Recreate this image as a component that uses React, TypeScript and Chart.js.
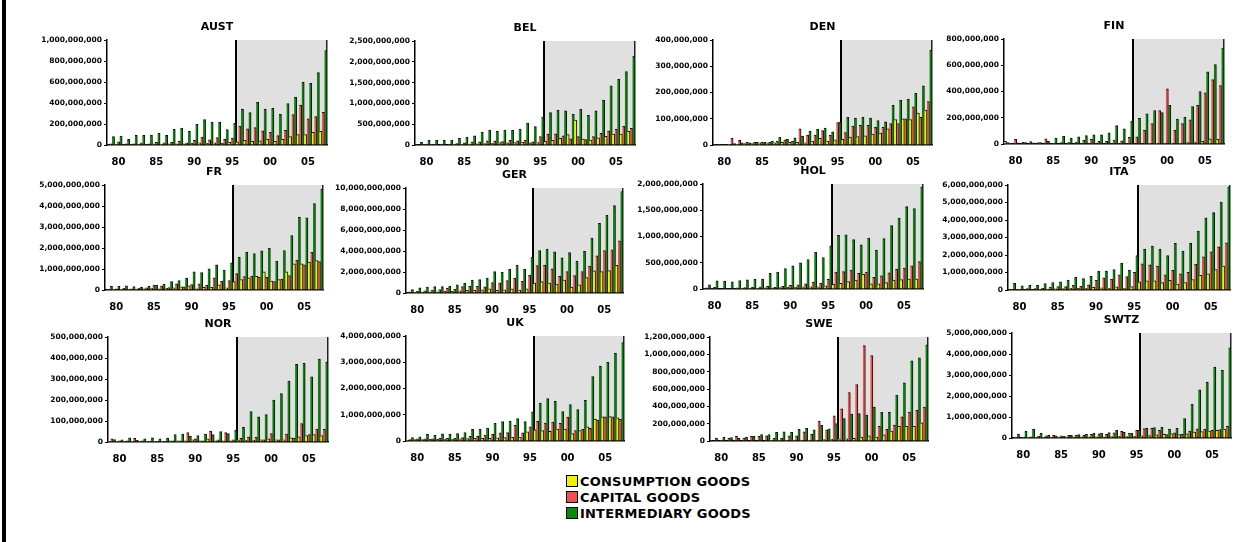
import React, { useEffect, useRef } from 'react';
import { Chart, registerables } from 'chart.js';

Chart.register(...registerables);

// ---------- DATA (values in millions) ----------
const YEARS = [1979, 1980, 1981, 1982, 1983, 1984, 1985, 1986, 1987, 1988, 1989, 1990, 1991, 1992, 1993, 1994, 1995, 1996, 1997, 1998, 1999, 2000, 2001, 2002, 2003, 2004, 2005, 2006, 2007];
const SHADE_FROM = 1996;
const SERIES_NAMES = ['CONSUMPTION GOODS', 'CAPITAL GOODS', 'INTERMEDIARY GOODS'];

const AUST_CONS = [5, 8, 5, 5, 8, 5, 10, 8, 10, 12, 10, 15, 20, 18, 20, 15, 25, 30, 45, 35, 40, 55, 35, 55, 80, 100, 100, 120, 130];
const AUST_CAP = [12, 30, 10, 12, 20, 10, 25, 20, 25, 35, 20, 45, 75, 50, 70, 55, 65, 180, 155, 165, 135, 120, 90, 140, 290, 380, 250, 270, 310];
const AUST_INT = [80, 86, 54, 92, 92, 95, 111, 92, 150, 162, 130, 197, 241, 219, 219, 146, 206, 343, 308, 406, 343, 349, 292, 394, 454, 597, 587, 689, 900];

const BEL_CONS = [5, 8, 8, 10, 10, 15, 20, 25, 30, 35, 40, 60, 50, 60, 70, 50, 60, 90, 110, 160, 250, 600, 140, 120, 170, 210, 260, 260, 330];
const BEL_CAP = [10, 20, 20, 25, 25, 35, 50, 75, 75, 100, 100, 80, 110, 100, 120, 75, 200, 260, 270, 220, 150, 200, 130, 200, 280, 340, 380, 450, 400];
const BEL_INT = [64, 120, 120, 110, 120, 160, 190, 220, 310, 360, 335, 360, 350, 380, 525, 440, 670, 780, 835, 820, 740, 860, 715, 820, 1080, 1420, 1585, 1765, 2130];

const DEN_CONS = [1, 2, 3, 3, 5, 5, 8, 8, 8, 10, 10, 10, 8, 15, 25, 15, 20, 22, 30, 32, 35, 42, 45, 62, 97, 100, 97, 122, 133];
const DEN_CAP = [2, 2, 25, 18, 10, 10, 10, 10, 15, 20, 15, 62, 38, 38, 55, 37, 85, 47, 72, 75, 75, 67, 67, 82, 82, 100, 145, 105, 165];
const DEN_INT = [3, 3, 5, 8, 8, 10, 10, 15, 29, 22, 27, 34, 52, 60, 64, 50, 86, 105, 103, 105, 103, 93, 88, 151, 171, 175, 197, 225, 362];

const FIN_CONS = [20, 3, 3, 3, 3, 3, 3, 3, 3, 3, 4, 4, 4, 4, 4, 4, 4, 4, 4, 5, 5, 5, 5, 5, 10, 15, 20, 40, 35];
const FIN_CAP = [10, 35, 12, 18, 10, 40, 5, 10, 10, 15, 30, 35, 20, 20, 30, 25, 50, 55, 105, 155, 255, 420, 105, 155, 185, 295, 390, 490, 445];
const FIN_INT = [5, 8, 10, 8, 10, 20, 45, 60, 45, 55, 65, 70, 70, 85, 140, 115, 175, 195, 230, 255, 240, 295, 190, 205, 285, 400, 550, 605, 730];

const FR_CONS = [20, 30, 30, 30, 40, 50, 80, 60, 80, 100, 150, 200, 50, 130, 130, 250, 100, 400, 500, 580, 650, 870, 430, 500, 860, 1250, 1250, 1330, 1400];
const FR_CAP = [30, 50, 80, 50, 80, 100, 230, 190, 110, 290, 150, 260, 290, 230, 580, 420, 450, 780, 640, 660, 620, 600, 400, 520, 690, 1420, 1200, 1790, 1350];
const FR_INT = [190, 190, 200, 160, 130, 180, 230, 270, 400, 450, 570, 870, 830, 1010, 1200, 950, 1290, 1570, 1800, 1740, 1860, 2000, 1380, 1880, 2590, 3470, 3440, 4120, 4800];

const GER_CONS = [50, 60, 80, 100, 120, 150, 150, 200, 250, 250, 300, 400, 260, 300, 400, 290, 400, 950, 1080, 950, 850, 1240, 570, 790, 1460, 2100, 2030, 2130, 2630];
const GER_CAP = [100, 160, 200, 280, 320, 480, 380, 600, 630, 630, 590, 1000, 960, 1180, 1430, 1110, 1710, 2600, 2660, 2310, 1590, 2030, 1650, 2050, 2570, 3550, 4040, 4100, 4980];
const GER_INT = [320, 490, 570, 600, 600, 630, 790, 950, 1240, 1270, 1430, 2030, 1970, 2260, 2630, 2260, 3390, 4030, 4190, 3930, 3360, 3840, 3010, 3960, 5240, 6630, 7390, 8320, 9670];

const HOL_CONS = [5, 10, 8, 10, 10, 12, 15, 15, 20, 20, 25, 30, 35, 40, 40, 40, 60, 90, 110, 140, 170, 280, 100, 100, 120, 170, 180, 190, 190];
const HOL_CAP = [20, 30, 10, 10, 20, 25, 30, 40, 50, 30, 50, 70, 80, 100, 130, 110, 185, 320, 330, 360, 300, 320, 220, 250, 310, 380, 400, 440, 520];
const HOL_INT = [80, 155, 150, 135, 160, 175, 185, 190, 300, 320, 390, 440, 500, 560, 700, 600, 820, 1020, 1030, 940, 840, 970, 740, 960, 1210, 1350, 1570, 1530, 1940];

const ITA_CONS = [20, 20, 30, 30, 40, 50, 60, 80, 100, 90, 100, 150, 120, 100, 180, 100, 200, 460, 520, 520, 420, 550, 340, 420, 600, 840, 930, 1170, 1370];
const ITA_CAP = [40, 40, 80, 80, 100, 160, 200, 200, 270, 230, 290, 550, 700, 630, 860, 760, 1010, 1500, 1440, 1370, 870, 1120, 930, 1010, 1480, 1900, 2180, 2470, 2700];
const ITA_INT = [380, 240, 270, 270, 360, 430, 470, 570, 740, 650, 780, 1080, 1080, 1160, 1540, 1140, 1960, 2340, 2510, 2340, 1960, 2660, 2220, 2680, 3360, 4120, 4430, 5020, 5900];

const NOR_CONS = [3, 3, 3, 3, 3, 3, 3, 3, 5, 5, 5, 10, 5, 15, 5, 5, 5, 8, 8, 8, 10, 15, 10, 10, 20, 25, 30, 35, 30];
const NOR_CAP = [15, 5, 5, 18, 5, 3, 3, 3, 5, 5, 45, 15, 5, 52, 10, 45, 10, 18, 25, 22, 10, 40, 10, 38, 18, 88, 35, 62, 60];
const NOR_INT = [12, 10, 20, 8, 15, 20, 15, 17, 35, 38, 28, 30, 38, 35, 50, 40, 55, 70, 145, 120, 130, 200, 230, 290, 370, 375, 310, 395, 380];

const UK_CONS = [30, 50, 50, 60, 60, 70, 70, 80, 90, 100, 100, 100, 120, 130, 140, 150, 350, 430, 400, 370, 450, 450, 280, 400, 540, 830, 920, 930, 880];
const UK_CAP = [50, 80, 80, 80, 100, 100, 100, 130, 180, 190, 230, 260, 310, 320, 600, 310, 540, 750, 680, 720, 670, 910, 400, 440, 480, 800, 920, 920, 830];
const UK_INT = [130, 160, 250, 230, 270, 260, 280, 320, 440, 450, 490, 670, 740, 760, 850, 740, 1110, 1440, 1620, 1510, 1120, 1390, 1200, 1550, 2450, 2850, 3000, 3350, 3750];

const SWE_CONS = [3, 5, 5, 5, 5, 5, 5, 5, 8, 8, 8, 10, 10, 10, 10, 15, 20, 25, 25, 30, 45, 60, 45, 70, 115, 170, 170, 170, 210];
const SWE_CAP = [5, 10, 35, 55, 35, 55, 55, 60, 30, 30, 60, 60, 105, 80, 230, 130, 290, 370, 560, 650, 1100, 985, 170, 135, 185, 280, 335, 355, 390];
const SWE_INT = [35, 45, 40, 30, 45, 55, 75, 75, 100, 105, 100, 135, 145, 130, 180, 140, 200, 260, 310, 315, 300, 390, 330, 330, 530, 670, 925, 960, 1110];

const SWTZ_CONS = [20, 20, 30, 30, 30, 40, 40, 50, 50, 50, 60, 60, 60, 70, 80, 70, 80, 100, 120, 150, 180, 200, 160, 200, 280, 310, 330, 360, 430];
const SWTZ_CAP = [30, 40, 60, 80, 100, 130, 100, 130, 130, 130, 180, 200, 170, 250, 320, 230, 360, 450, 460, 360, 160, 250, 170, 330, 440, 420, 370, 400, 560];
const SWTZ_INT = [190, 320, 420, 220, 130, 100, 80, 130, 160, 175, 240, 240, 260, 370, 270, 240, 370, 470, 500, 510, 430, 460, 920, 1600, 2290, 2660, 3380, 3220, 4290];

// axis maxima / steps (millions)
const COUNTRIES = ['AUST', 'BEL', 'DEN', 'FIN', 'FR', 'GER', 'HOL', 'ITA', 'NOR', 'UK', 'SWE', 'SWTZ'];
const Y_MAX = [1000, 2500, 400, 800, 5000, 10000, 2000, 6000, 500, 4000, 1200, 5000];
const Y_STEP = [200, 500, 100, 200, 1000, 2000, 500, 1000, 100, 1000, 200, 1000];
const SERIES = [
  [AUST_CONS, AUST_CAP, AUST_INT],
  [BEL_CONS, BEL_CAP, BEL_INT],
  [DEN_CONS, DEN_CAP, DEN_INT],
  [FIN_CONS, FIN_CAP, FIN_INT],
  [FR_CONS, FR_CAP, FR_INT],
  [GER_CONS, GER_CAP, GER_INT],
  [HOL_CONS, HOL_CAP, HOL_INT],
  [ITA_CONS, ITA_CAP, ITA_INT],
  [NOR_CONS, NOR_CAP, NOR_INT],
  [UK_CONS, UK_CAP, UK_INT],
  [SWE_CONS, SWE_CAP, SWE_INT],
  [SWTZ_CONS, SWTZ_CAP, SWTZ_INT],
];

// ---------- LAYOUT / STYLE ----------
// chart-area rectangles [left, top, width, height]
const AREAS = [
  [107, 40, 220, 105], [415, 41, 220, 104], [713, 40, 219, 105], [1004, 39, 220, 105],
  [105, 185, 218, 105], [406, 188, 217, 105], [703, 184, 220, 105], [1008, 185, 222, 105],
  [108, 337, 220, 105], [406, 336, 218, 105], [710, 337, 218, 104], [1012, 333, 219, 105],
];
const COLORS = ['#F2F200', '#F05050', '#0A8A0A'];
const Y_W = 86;
const TOP_PAD = 26;
const X_H = 22;
const RIGHT_PAD = 4;
const FONT = '"DejaVu Sans", "Liberation Sans", Arial, sans-serif';

const shadePlugin = {
  id: 'shade',
  beforeDraw(chart: any) {
    const { ctx, chartArea, scales } = chart;
    const x = scales.x;
    const i = YEARS.indexOf(SHADE_FROM);
    const xs = (x.getPixelForValue(i - 1) + x.getPixelForValue(i)) / 2;
    ctx.save();
    ctx.fillStyle = '#E0E0E0';
    ctx.fillRect(xs, chartArea.top, chartArea.right - xs, chartArea.bottom - chartArea.top);
    ctx.restore();
  },
  beforeDatasetsDraw(chart: any) {
    const { ctx, chartArea, scales } = chart;
    const x = scales.x;
    const i = YEARS.indexOf(SHADE_FROM);
    const xs = (x.getPixelForValue(i - 1) + x.getPixelForValue(i)) / 2;
    ctx.save();
    ctx.fillStyle = '#000';
    ctx.fillRect(Math.round(xs) - 1, chartArea.top, 2, chartArea.bottom - chartArea.top);
    ctx.fillStyle = '#222';
    ctx.fillRect(Math.round(chartArea.right) - 1, chartArea.top, 1.5, chartArea.bottom - chartArea.top);
    ctx.restore();
  },
  afterDraw(chart: any) {
    const { ctx, chartArea } = chart;
    const title = chart.options.plugins.panelTitle?.text || '';
    ctx.save();
    ctx.fillStyle = '#000';
    ctx.font = `bold 11px ${FONT}`;
    ctx.textAlign = 'center';
    ctx.textBaseline = 'middle';
    ctx.fillText(title, (chartArea.left + chartArea.right) / 2, chartArea.top - 13);
    ctx.restore();
  },
};

function Panel({ idx }: { idx: number }) {
  const ref = useRef<HTMLCanvasElement | null>(null);
  const [l, t, w, h] = AREAS[idx];
  const cw = Y_W + w + RIGHT_PAD;
  const ch = TOP_PAD + h + X_H;
  useEffect(() => {
    const chart = new Chart(ref.current as HTMLCanvasElement, {
      type: 'bar',
      data: {
        labels: YEARS.map(String),
        datasets: SERIES[idx].map((d, k) => ({
          label: SERIES_NAMES[k],
          data: d,
          backgroundColor: COLORS[k],
          borderColor: '#111',
          borderWidth: { left: 0, right: 1, top: 1, bottom: 0 },
          borderSkipped: 'bottom',
          categoryPercentage: 1,
          barPercentage: 1,
        })),
      },
      options: {
        responsive: false,
        maintainAspectRatio: false,
        animation: false,
        layout: { padding: { top: TOP_PAD, right: RIGHT_PAD, left: 0, bottom: 0 } },
        plugins: {
          legend: { display: false },
          tooltip: { enabled: false },
          panelTitle: { text: COUNTRIES[idx] },
        } as any,
        scales: {
          x: {
            grid: { display: false },
            border: { color: '#000', width: 1.5 },
            ticks: {
              autoSkip: false,
              maxRotation: 0,
              color: '#000',
              padding: 3,
              font: { family: FONT, size: 10, weight: 'bold' },
              callback: (_v: any, i: number) => (YEARS[i] % 5 === 0 ? String(YEARS[i]).slice(2) : ''),
            },
            afterFit: (s: any) => { s.height = X_H; },
          },
          y: {
            min: 0,
            max: Y_MAX[idx],
            grid: { drawOnChartArea: false, drawTicks: true, tickLength: 3, color: '#000' },
            border: { color: '#000', width: 1.5 },
            ticks: {
              stepSize: Y_STEP[idx],
              color: '#000',
              padding: 2,
              font: { family: FONT, size: 7.5, weight: 'bold' },
              callback: (v: any) => (Number(v) * 1000000).toLocaleString('en-US'),
            },
            afterFit: (s: any) => { s.width = Y_W; },
          },
        },
      } as any,
      plugins: [shadePlugin],
    });
    return () => chart.destroy();
  }, [idx]);
  return (
    <canvas
      ref={ref}
      width={cw}
      height={ch}
      style={{ position: 'absolute', left: l - Y_W, top: t - TOP_PAD, width: cw, height: ch }}
    />
  );
}

export default function App() {
  return (
    <div style={{ position: 'fixed', left: 0, top: 0, width: 1260, height: 542, background: '#fff', overflow: 'hidden' }}>
      <div style={{ position: 'absolute', left: 2, top: 0, width: 4, height: 542, background: '#000' }} />
      {COUNTRIES.map((_, i) => <Panel key={i} idx={i} />)}
      <div style={{ position: 'absolute', left: 566, top: 473, fontFamily: FONT, fontWeight: 'bold', fontSize: 13, color: '#000' }}>
        {SERIES_NAMES.map((n, k) => (
          <div key={k} style={{ display: 'flex', alignItems: 'center', height: 16 }}>
            <span style={{ display: 'inline-block', width: 10, height: 10, border: '1px solid #000', background: COLORS[k], marginRight: 2 }} />
            <span style={{ letterSpacing: 0.2 }}>{n}</span>
          </div>
        ))}
      </div>
    </div>
  );
}
